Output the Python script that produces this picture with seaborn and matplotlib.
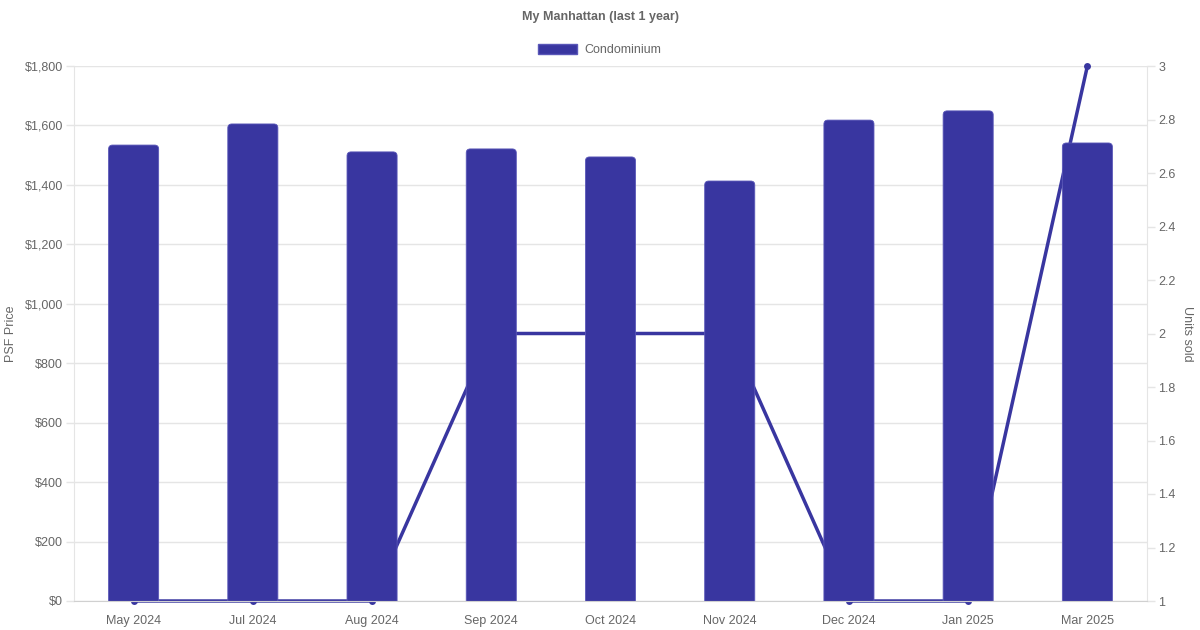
import numpy as np
import pandas as pd
import matplotlib
matplotlib.use("Agg")
import matplotlib.pyplot as plt
import seaborn as sns
from matplotlib.patches import FancyBboxPatch, Patch
from matplotlib.ticker import FuncFormatter

# data
months = ["May 2024", "Jul 2024", "Aug 2024", "Sep 2024", "Oct 2024",
          "Nov 2024", "Dec 2024", "Jan 2025", "Mar 2025"]
psf_price = [1534, 1605, 1511, 1521, 1494, 1413, 1618, 1649, 1541]
units_sold = [1, 1, 1, 2, 2, 2, 1, 1, 3]

df = pd.DataFrame({"month": months, "psf": psf_price, "units": units_sold})

bar_color = "#3936a0"
text_color = "#666666"
grid_color = "#e5e5e5"

sns.set_style("white")
plt.rcParams["font.family"] = ["Liberation Sans", "DejaVu Sans"]

fig = plt.figure(figsize=(12, 6.3), dpi=100)
pos = [74 / 1200, 1 - 601 / 630, (1147 - 74) / 1200, (601 - 66) / 630]

# grid only axes at the very back
axg = fig.add_axes(pos)
axg.set_ylim(0, 1800)
axg.set_yticks(np.arange(0, 1801, 200))
axg.grid(axis="y", color=grid_color, linewidth=1)
axg.set_xticks([])
axg.tick_params(axis="y", length=0, labelleft=False)
for s in axg.spines.values():
    s.set_visible(False)
axg.set_zorder(0)

ax = fig.add_axes(pos)
ax2 = ax.twinx()

# units sold line (drawn behind the bars)
sns.lineplot(data=df, x="month", y="units", ax=ax2, color=bar_color, linewidth=2.5,
             marker="o", markersize=5, markeredgewidth=0, sort=False, clip_on=False)

# psf price bars
sns.barplot(data=df, x="month", y="psf", ax=ax, color=bar_color, width=0.42,
            saturation=1)

ax.set_xlim(-0.5, len(months) - 0.5)
ax.set_ylim(0, 1800)

# round the top corners of the bars
xpp = len(months) / (1147 - 74)
ypp = 1800 / (601 - 66)
for p in list(ax.patches):
    x0, w, h = p.get_x(), p.get_width(), p.get_height()
    p.remove()
    fb = FancyBboxPatch((x0, -20), w, h + 20,
                        boxstyle="round,pad=0,rounding_size=%f" % (4 * xpp),
                        mutation_aspect=ypp / xpp,
                        facecolor=bar_color, edgecolor="#5a57b8", linewidth=0.6)
    ax.add_patch(fb)
    fb.set_clip_on(True)

ax2.set_zorder(1)
ax2.patch.set_visible(False)
ax.set_zorder(2)
ax.patch.set_visible(False)

ax.set_yticks(np.arange(0, 1801, 200))
ax.yaxis.set_major_formatter(FuncFormatter(lambda v, _: "${:,.0f}".format(v)))
ax2.set_ylim(1, 3)
ax2.set_yticks(np.arange(1, 3.01, 0.2))
ax2.yaxis.set_major_formatter(FuncFormatter(lambda v, _: "{:g}".format(round(v, 1))))
ax.grid(False)
ax2.grid(False)

for a in (ax, ax2):
    for s in a.spines.values():
        s.set_visible(False)
ax.spines["left"].set_visible(True)
ax.spines["left"].set_color(grid_color)
ax.spines["bottom"].set_visible(True)
ax.spines["bottom"].set_color("#d0d0d0")
ax2.spines["right"].set_visible(True)
ax2.spines["right"].set_color(grid_color)

ax.tick_params(axis="y", colors=text_color, labelsize=9, length=6, width=1,
               color=grid_color, pad=2)
ax2.tick_params(axis="y", colors=text_color, labelsize=9, length=6, width=1,
                color=grid_color, pad=2)
ax.tick_params(axis="x", colors=text_color, labelsize=9, length=0, pad=10)

ax.set_xlabel("")
ax.set_ylabel("PSF Price", color=text_color, fontsize=9, va="center")
ax.yaxis.set_label_coords((11 - 74) / 1073, 0.5)
ax2.set_ylabel("Units sold", color=text_color, fontsize=9, rotation=270, va="center")
ax2.yaxis.set_label_coords((1187 - 74) / 1073, 0.5)

fig.text(0.5, 1 - 17 / 630, "My Manhattan (last 1 year)", ha="center", va="center",
         color=text_color, fontsize=9, fontweight="bold")

leg = fig.legend(handles=[Patch(facecolor=bar_color, edgecolor="#5a57b8",
                                label="Condominium")],
                 loc="center", bbox_to_anchor=(0.5, 1 - 50 / 630), frameon=False,
                 handlelength=3.1, handleheight=0.9, handletextpad=0.6, fontsize=9)
for t in leg.get_texts():
    t.set_color(text_color)

fig.savefig("out.png", dpi=100)
